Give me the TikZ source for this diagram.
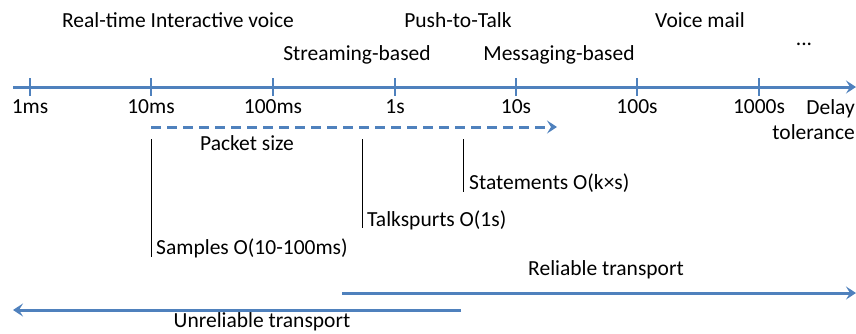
\documentclass[tikz,border=0pt]{standalone}
\usepackage{fontspec}
\setmainfont{Carlito}
\usetikzlibrary{arrows.meta}
\definecolor{axblue}{RGB}{79,129,189}
\begin{document}
\begin{tikzpicture}[x=1pt,y=-1pt,
  lbl/.style={font=\fontsize{21.5}{25}\selectfont, inner sep=0pt, text=black},
  bluearrow/.style={draw=axblue, line width=3pt, -{Stealth[length=10pt,width=13pt,inset=4pt]}},
  tick/.style={draw=axblue, line width=2.5pt},
  guide/.style={draw=black, line width=0.8pt}]
\useasboundingbox (0,0) rectangle (856,333);
% axis
\coordinate (a0) at (13,87);
\coordinate (a1) at (856,87);
\draw[bluearrow] (a0) -- (a1);
\foreach \x/\t [count=\i] in {30/1ms,151/10ms,273/100ms,395/1s,516/10s,637/100s,759/1000s}{
  \coordinate (t\i) at (\x,78);
  \coordinate (b\i) at (\x,96);
  \draw[tick] (t\i) -- (b\i);
  \node[lbl] (l\i) at (\x,107) {\t};
}
\node[lbl, align=right, anchor=east] (delay) at (855,120) {Delay\\tolerance};
% top labels
\node[lbl] (rt) at (178,20) {Real-time Interactive voice};
\node[lbl] (ptt) at (458,20) {Push-to-Talk};
\node[lbl] (vm) at (700,20) {Voice mail};
\node[lbl] (sb) at (357,55) {Streaming-based};
\node[lbl] (mb) at (559,55) {Messaging-based};
\node[lbl] (dots) at (804,44) {...};
% packet size dashed arrow
\coordinate (p0) at (151,127);
\coordinate (p1) at (557,127);
\draw[draw=axblue, line width=3pt, dash pattern=on 10pt off 6pt, -{Stealth[length=10pt,width=13pt,inset=4pt]}] (p0) -- (p1);
\node[lbl] (ps) at (247,143) {Packet size};
% guides
\coordinate (g1a) at (151,139); \coordinate (g1b) at (151,257);
\coordinate (g2a) at (362,139); \coordinate (g2b) at (362,228);
\coordinate (g3a) at (463,139); \coordinate (g3b) at (463,192);
\draw[guide] (g1a) -- (g1b);
\draw[guide] (g2a) -- (g2b);
\draw[guide] (g3a) -- (g3b);
\node[lbl, anchor=west] (sam) at (156,248) {Samples O(10-100ms)};
\node[lbl, anchor=west] (tal) at (367,220) {Talkspurts O(1s)};
\node[lbl, anchor=west] (sta) at (469,183) {Statements O(k×s)};
% transports
\coordinate (r0) at (342,293);
\coordinate (r1) at (856,293);
\draw[bluearrow] (r0) -- (r1);
\node[lbl] (rel) at (606,270) {Reliable transport};
\coordinate (u0) at (461,310);
\coordinate (u1) at (13,310);
\draw[bluearrow] (u0) -- (u1);
\node[lbl] (unr) at (262,322) {Unreliable transport};
\end{tikzpicture}
\end{document}
